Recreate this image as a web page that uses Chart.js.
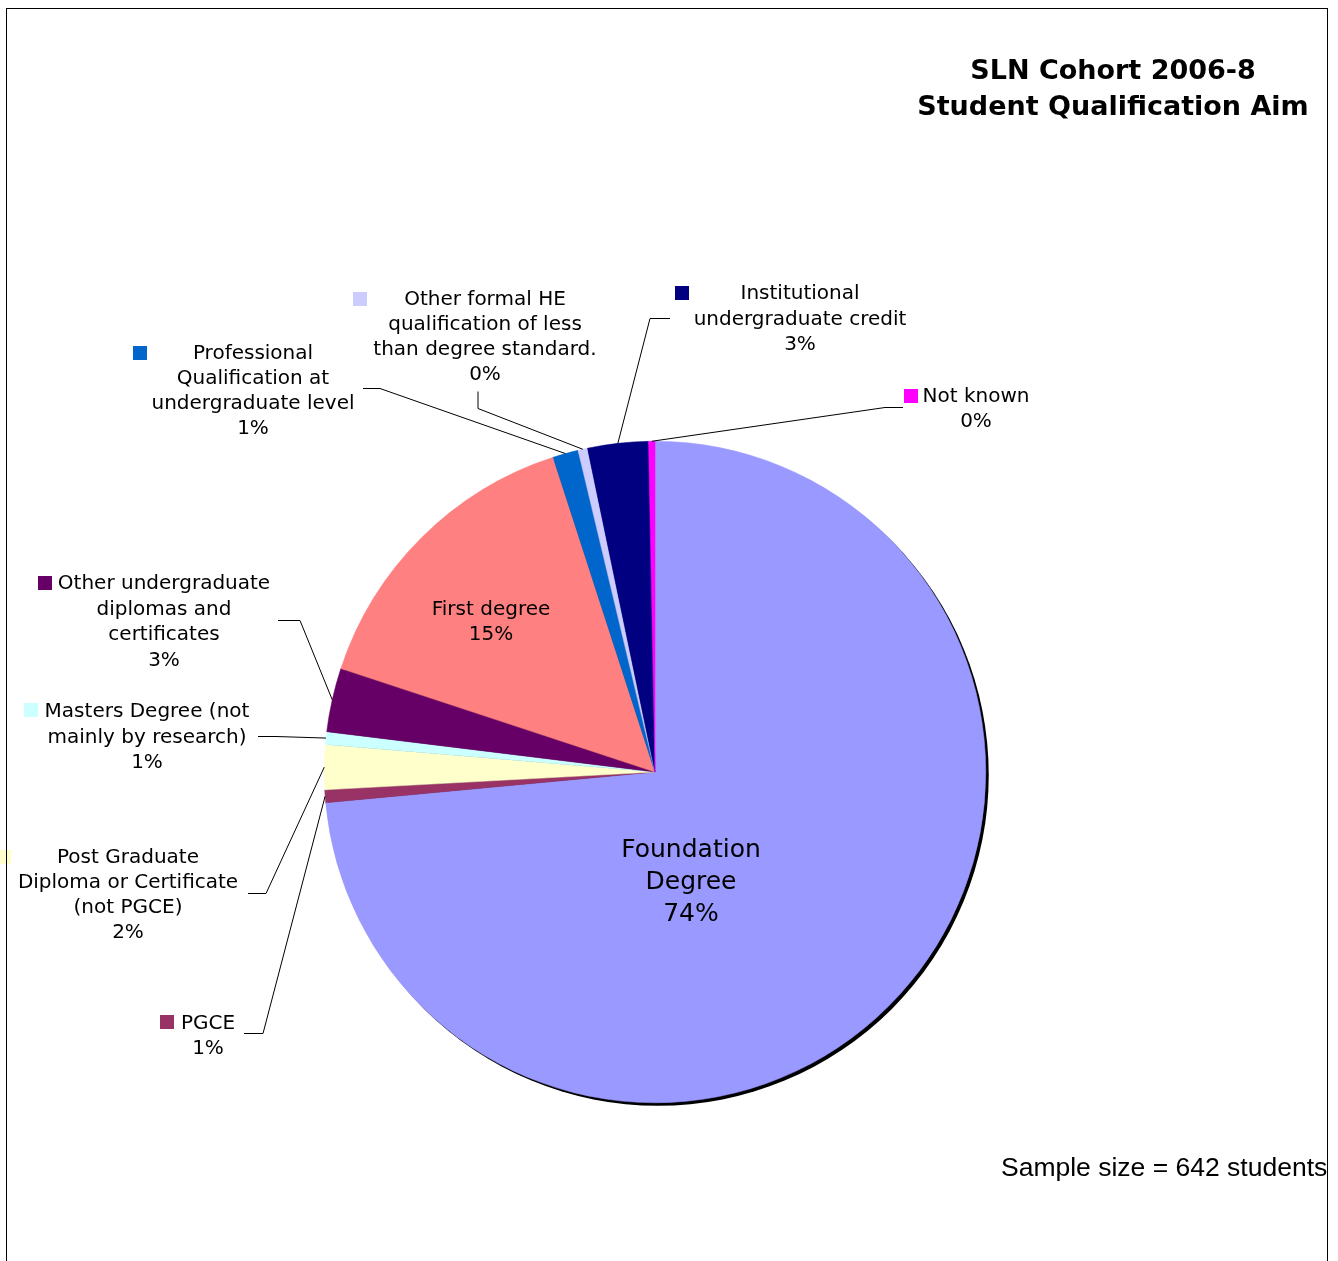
<!DOCTYPE html>
<html><head><meta charset="utf-8">
<script src="https://cdn.jsdelivr.net/npm/chart.js@4.4.1/dist/chart.umd.min.js"></script>
<style>html,body{margin:0;padding:0;background:#fff;overflow:hidden}canvas{display:block}</style>
</head><body>
<canvas id="c" width="1338" height="1261"></canvas>
<script>
// ---- data ----
const categories = [
  'Foundation Degree',
  'PGCE',
  'Post Graduate Diploma or Certificate (not PGCE)',
  'Masters Degree (not mainly by research)',
  'Other undergraduate diplomas and certificates',
  'First degree',
  'Professional Qualification at undergraduate level',
  'Other formal HE qualification of less than degree standard.',
  'Institutional undergraduate credit',
  'Not known'
];
const students = [472, 4, 14, 4, 20, 96, 8, 3, 19, 2];
const sliceColors = ['#9999FF','#993366','#FFFFCC','#CCFFFF','#660066','#FF8080','#0066CC','#CCCCFF','#000080','#FF00FF'];
const labelLines = [
  ['Foundation','Degree'],
  ['PGCE'],
  ['Post Graduate','Diploma or Certificate','(not PGCE)'],
  ['Masters Degree (not','mainly by research)'],
  ['Other undergraduate','diplomas and','certificates'],
  ['First degree'],
  ['Professional','Qualification at','undergraduate level'],
  ['Other formal HE','qualification of less','than degree standard.'],
  ['Institutional','undergraduate credit'],
  ['Not known']
];
const titleLines = ['SLN Cohort 2006-8', 'Student Qualification Aim'];
const footnote = 'Sample size = 642 students';

// ---- layout (label placement only) ----
const labelLayout = [
  {x:691, y:850, lh:32, size:25},
  {x:208, y:1024, lh:25, size:20, key:[160,1015], leader:[[263,1033],[244,1033]]},
  {x:128, y:858, lh:25, size:20, key:[-3,850], leader:[[266,893],[248,893]]},
  {x:147, y:712, lh:25.5, size:20, key:[24,703], leader:[[276,736],[258,736]]},
  {x:164, y:584, lh:25.5, size:20, key:[38,576], leader:[[300,620],[278,620]]},
  {x:491, y:610, lh:25, size:20},
  {x:253, y:354, lh:25, size:20, key:[133,346], leader:[[380,388],[363,388]]},
  {x:485, y:300, lh:25, size:20, key:[353,292], leader:[[478,408],[478,391]]},
  {x:800, y:294, lh:25.5, size:20, key:[675,286], leader:[[650,318],[670,318]]},
  {x:976, y:397, lh:25, size:20, key:[904,389], leader:[[885,407],[903,407]]}
];
const FONT = '"DejaVu Sans", Verdana, sans-serif';

const bgPlugin = {
  id:'bg',
  beforeDraw(chart){
    const ctx = chart.ctx;
    ctx.save(); ctx.fillStyle='#fff'; ctx.fillRect(0,0,chart.width,chart.height); ctx.restore();
  }
};
const shadowPlugin = {
  id:'shadow',
  beforeDatasetsDraw(chart){
    const a = chart.getDatasetMeta(0).data[0];
    const ctx = chart.ctx;
    ctx.save();
    ctx.beginPath(); ctx.arc(a.x+3, a.y+3, a.outerRadius, 0, Math.PI*2);
    ctx.fillStyle='#000'; ctx.fill();
    ctx.restore();
  }
};
const labelPlugin = {
  id:'labels',
  afterDatasetsDraw(chart){
    const ctx = chart.ctx;
    const meta = chart.getDatasetMeta(0);
    const total = students.reduce((s,v)=>s+v,0);
    ctx.save();
    labelLayout.forEach((L,i)=>{
      const arc = meta.data[i];
      const lines = labelLines[i].concat([Math.round(students[i]/total*100)+'%']);
      if (L.leader){
        const mid = (arc.startAngle+arc.endAngle)/2;
        const sx = arc.x + Math.cos(mid)*arc.outerRadius;
        const sy = arc.y + Math.sin(mid)*arc.outerRadius;
        ctx.beginPath(); ctx.moveTo(sx, sy);
        L.leader.forEach(p=>ctx.lineTo(p[0], p[1]+0.5));
        ctx.strokeStyle='#000'; ctx.lineWidth=1; ctx.stroke();
      }
      if (L.key){ ctx.fillStyle=sliceColors[i]; ctx.fillRect(L.key[0], L.key[1], 14, 14); }
      ctx.fillStyle='#000';
      ctx.font = L.size+'px '+FONT;
      ctx.textAlign='center'; ctx.textBaseline='middle';
      lines.forEach((t,k)=>ctx.fillText(t, L.x, L.y + k*L.lh));
    });
    ctx.restore();
  },
  afterDraw(chart){
    const ctx = chart.ctx;
    ctx.save();
    ctx.fillStyle='#000'; ctx.textAlign='center'; ctx.textBaseline='middle';
    ctx.font = 'bold 27px '+FONT;
    titleLines.forEach((t,k)=>ctx.fillText(t, 1113, 72 + k*36));
    ctx.font = '26.5px "Liberation Sans", Arial, sans-serif';
    ctx.textAlign='left';
    ctx.fillText(footnote, 1001, 1169);
    ctx.strokeStyle='#000'; ctx.lineWidth=1;
    ctx.strokeRect(6.5, 8.5, 1321, 1300);
    ctx.restore();
  }
};

new Chart(document.getElementById('c'), {
  type:'pie',
  data:{
    labels: categories,
    datasets:[{
      data: students,
      backgroundColor: sliceColors,
      borderColor: sliceColors,
      borderWidth: 0.5,
      hoverOffset: 0,
      offset: 0
    }]
  },
  options:{
    responsive:false,
    animation:false,
    events:[],
    layout:{padding:{left:324, right:352, top:441, bottom:158}},
    plugins:{legend:{display:false}, tooltip:{enabled:false}, title:{display:false}}
  },
  plugins:[bgPlugin, shadowPlugin, labelPlugin]
});
</script>
</body></html>
